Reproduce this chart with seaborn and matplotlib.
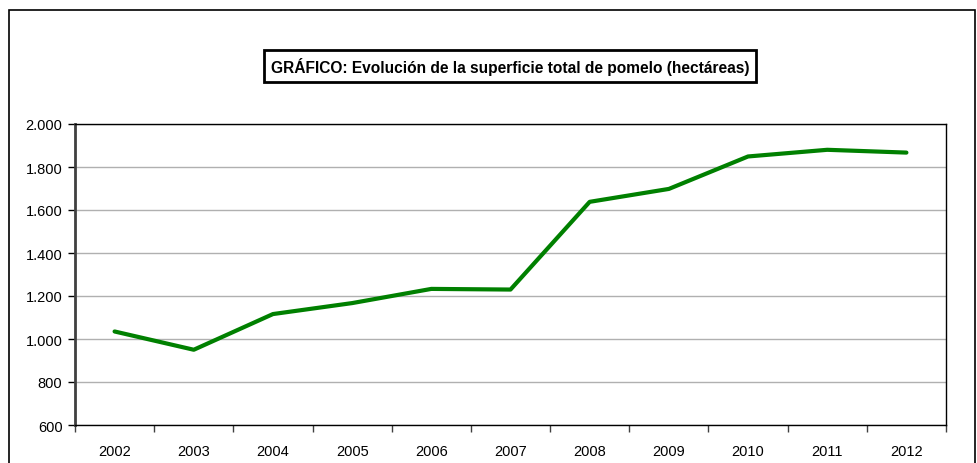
import numpy as np
import pandas as pd
import seaborn as sns
import matplotlib.pyplot as plt
from matplotlib.patches import Rectangle
from matplotlib.ticker import FuncFormatter

sns.set_theme(style='white')
plt.rcParams['font.family'] = ['Liberation Sans', 'DejaVu Sans']

years = ['2002', '2003', '2004', '2005', '2006', '2007',
         '2008', '2009', '2010', '2011', '2012']
hectareas = [1035, 950, 1116, 1167, 1233, 1230, 1638, 1698, 1849, 1880, 1867]
y_ticks = [600, 800, 1000, 1200, 1400, 1600, 1800, 2000]
titulo = 'GRÁFICO: Evolución de la superficie total de pomelo (hectáreas)'

df = pd.DataFrame({'pos': np.arange(len(years)), 'ha': hectareas})

fig = plt.figure(figsize=(9.77, 4.64), dpi=100)
ax = fig.add_axes([75 / 977, 1 - 426 / 464, 871 / 977, 301 / 464])

sns.lineplot(data=df, x='pos', y='ha', ax=ax, color='#008000', linewidth=3)

ax.set_xlim(-0.5, len(years) - 0.5)
ax.set_ylim(600, 2000)
ax.set_yticks(y_ticks)
ax.yaxis.set_major_formatter(FuncFormatter(lambda v, p: f'{int(v):,}'.replace(',', '.')))
ax.yaxis.grid(True, color='#b0b0b0', linewidth=1)
ax.set_axisbelow(True)

ax.set_xticks(np.arange(-0.5, len(years)), minor=False)
ax.set_xticklabels([])
ax.set_xticks(np.arange(len(years)), minor=True)
ax.set_xticklabels(years, minor=True)
ax.tick_params(axis='x', which='major', direction='out', length=5, width=1, color='#404040', bottom=True)
ax.tick_params(axis='x', which='minor', length=0, pad=14, labelsize=10.5, labelcolor='black')
ax.tick_params(axis='y', direction='out', length=5, width=1, color='black', left=True,
               labelsize=10.5, labelcolor='black', pad=4)

ax.set_xlabel('')
ax.set_ylabel('')
for s in ['top', 'right', 'bottom']:
    ax.spines[s].set_color('black')
    ax.spines[s].set_linewidth(1)
ax.spines['left'].set_color('#404040')
ax.spines['left'].set_linewidth(2)

fig.text(510 / 977, 1 - 67 / 464, titulo, ha='center', va='center', fontsize=11.2,
         fontweight='bold', color='black',
         bbox=dict(boxstyle='square,pad=0.45', facecolor='white', edgecolor='black', linewidth=2))

fig.patches.append(Rectangle((9 / 977, -0.1), 966 / 977, 1.1 - 11 / 464,
                             transform=fig.transFigure, fill=False,
                             edgecolor='black', linewidth=1.2))

fig.savefig('out.png', dpi=100)
